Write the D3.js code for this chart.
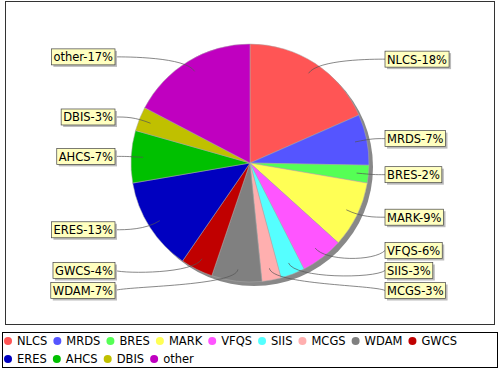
<!DOCTYPE html>
<html lang="en">
	<head>
		<meta charset="utf-8">
		<title>D3: pie chart with labels</title>
		<script type="text/javascript" src="https://cdn.jsdelivr.net/npm/d3@7"></script>
		<style type="text/css">
			body { margin: 0; background: #fff; }
			text { font-family: "DejaVu Sans", sans-serif; }
		</style>
	</head>
	<body>
		<script type="text/javascript">

			//Data
			var categories = ["NLCS", "MRDS", "BRES", "MARK", "VFQS", "SIIS", "MCGS",
							  "WDAM", "GWCS", "ERES", "AHCS", "DBIS", "other"];
			var values = [18.4, 6.9, 2.4, 9.0, 5.8, 3.3, 2.6, 6.8, 4.4, 12.7, 7.1, 3.3, 17.3];
			var colors = ["#ff5555", "#5555ff", "#55ff55", "#ffff55", "#ff55ff", "#55ffff", "#ffafaf",
						  "#808080", "#c00000", "#0000c0", "#00c000", "#c0c000", "#c000c0"];

			//Width and height
			var w = 500;
			var h = 370;
			var cx = 250, cy = 163;
			var r = 119;
			var linkR = 124;     // label / elbow radius
			var gap = 11;

			var svg = d3.select("body")
						.append("svg")
						.attr("width", w)
						.attr("height", h);

			//plot outline
			svg.append("rect")
				.attr("x", 5.5).attr("y", 1.5)
				.attr("width", 489).attr("height", 323)
				.attr("fill", "white")
				.attr("stroke", "#333").attr("stroke-width", 1);

			var data = categories.map(function(c, i) {
				return { name: c, value: values[i], color: colors[i] };
			});
			var total = d3.sum(values);

			var pie = d3.pie()
						.value(function(d) { return d.value; })
						.sort(null);
			var arcs = pie(data);

			var arc = d3.arc().innerRadius(0).outerRadius(r);

			//shadow
			svg.append("circle")
				.attr("cx", cx + 4).attr("cy", cy + 4).attr("r", r)
				.attr("fill", "#888");

			var g = svg.append("g").attr("transform", "translate(" + cx + "," + cy + ")");
			g.selectAll("path")
				.data(arcs)
				.enter()
				.append("path")
				.attr("d", arc)
				.attr("fill", function(d) { return d.data.color; })
				.attr("stroke", "#aaa")
				.attr("stroke-width", 0.5);

			//label layout
			var fontSize = 11.5;
			var boxH = 16;
			var maxY = 290.5, spacing = 20;

			var labels = arcs.map(function(d) {
				var mid = (d.startAngle + d.endAngle) / 2;
				var pct = Math.round(d.data.value / total * 100);
				return {
					text: d.data.name + "-" + pct + "%",
					mid: mid,
					right: Math.sin(mid) > 0,
					y: cy - Math.cos(mid) * linkR
				};
			});

			//push overlapping labels down, then back up from the bottom limit
			function resolve(list) {
				list.sort(function(a, b) { return a.y - b.y; });
				for (var i = 1; i < list.length; i++) {
					if (list[i].y < list[i-1].y + spacing) list[i].y = list[i-1].y + spacing;
				}
				var last = list[list.length - 1];
				if (last.y > maxY) {
					last.y = maxY;
					for (var j = list.length - 2; j >= 0; j--) {
						if (list[j].y > list[j+1].y - spacing) list[j].y = list[j+1].y - spacing;
					}
				}
			}
			resolve(labels.filter(function(l) { return l.right; }));
			resolve(labels.filter(function(l) { return !l.right; }));

			//links
			var links = svg.append("g");
			labels.forEach(function(l) {
				var lx = cx + Math.sin(l.mid) * r * 0.9;
				var ly = cy - Math.cos(l.mid) * r * 0.9;
				var ex = cx + Math.sin(l.mid) * linkR;
				var ey = cy - Math.cos(l.mid) * linkR;
				var ax = l.right ? cx + linkR : cx - linkR;
				var tx = l.right ? ax + gap : ax - gap;
				var p = d3.path();
				p.moveTo(lx, ly);
				p.bezierCurveTo(ex, ey, ax, ey, tx, l.y);
				links.append("path")
					.attr("d", p.toString())
					.attr("fill", "none")
					.attr("stroke", "#555")
					.attr("stroke-width", 0.7);
				l.tx = tx;
			});

			//label boxes
			var lg = svg.selectAll("g.lab")
						.data(labels)
						.enter()
						.append("g")
						.attr("class", "lab");

			lg.append("text")
				.attr("font-size", fontSize + "px")
				.attr("dominant-baseline", "central")
				.text(function(d) { return d.text; })
				.each(function(d) { d.tw = this.getComputedTextLength(); });

			lg.each(function(d) {
				var bw = d.tw + 4;
				d.bx = d.right ? d.tx : d.tx - bw;
				d.bw = bw;
			});

			lg.insert("rect", "text")
				.attr("x", function(d) { return d.bx + 2; })
				.attr("y", function(d) { return d.y - boxH / 2 + 2; })
				.attr("width", function(d) { return d.bw; })
				.attr("height", boxH)
				.attr("fill", "#bbb");

			lg.insert("rect", "text")
				.attr("x", function(d) { return d.bx; })
				.attr("y", function(d) { return d.y - boxH / 2; })
				.attr("width", function(d) { return d.bw; })
				.attr("height", boxH)
				.attr("fill", "#ffffc0")
				.attr("stroke", "#444")
				.attr("stroke-width", 0.7);

			lg.select("text")
				.attr("x", function(d) { return d.bx + 2; })
				.attr("y", function(d) { return d.y + 0.5; })
				.attr("fill", "#000");

			//legend
			svg.append("rect")
				.attr("x", 2.5).attr("y", 332.5)
				.attr("width", 495).attr("height", 35)
				.attr("fill", "white")
				.attr("stroke", "#000").attr("stroke-width", 1);

			var legend = svg.append("g");
			var lx0 = 2, lxMax = 496, rowY = [341, 359];
			var cursor = lx0, row = 0;
			data.forEach(function(d) {
				var item = legend.append("g");
				var t = item.append("text")
							.attr("font-size", fontSize + "px")
							.attr("dominant-baseline", "central")
							.attr("fill", "#000")
							.text(d.name);
				var tw = t.node().getComputedTextLength();
				if (cursor + 15 + tw > lxMax) { row++; cursor = lx0; }
				item.append("circle")
					.attr("cx", cursor + 6).attr("cy", rowY[row])
					.attr("r", 4)
					.attr("fill", d.color);
				t.attr("x", cursor + 15).attr("y", rowY[row]);
				cursor = cursor + 15 + tw + 4;
			});

		</script>
	</body>
</html>
